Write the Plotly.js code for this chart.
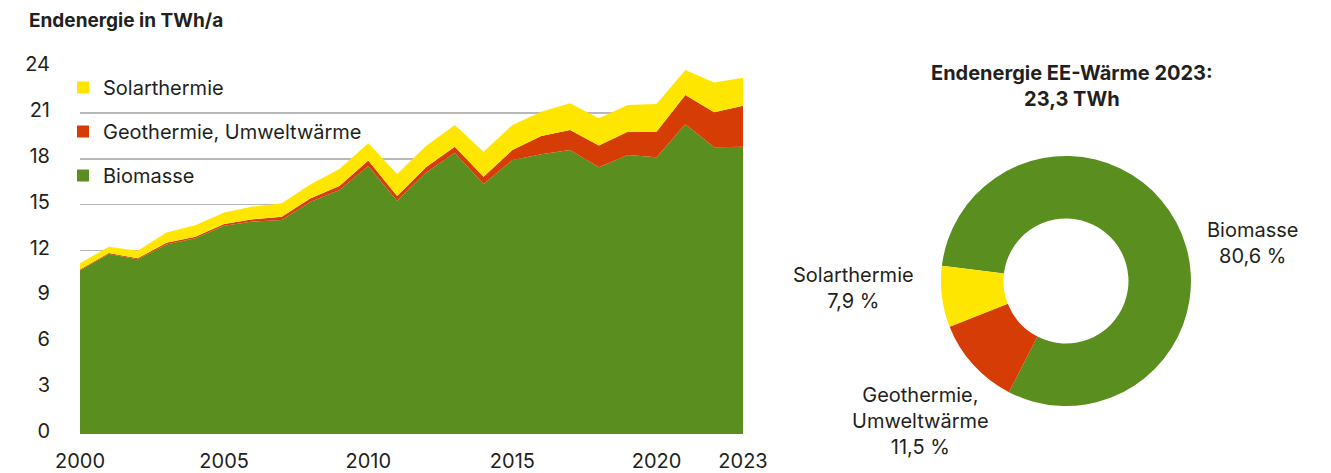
<!DOCTYPE html>
<html>
<head>
<meta charset="utf-8">
<script src="https://cdn.plot.ly/plotly-3.0.1.min.js"></script>
<style>
  body { margin: 0; background: #fff; }
  #chart { width: 1331px; height: 473px; }
</style>
</head>
<body>
<div id="chart"></div>
<script>
// Endenergie aus erneuerbaren Quellen fuer Waerme, TWh/a
var years = [2000, 2001, 2002, 2003, 2004, 2005, 2006, 2007, 2008, 2009, 2010, 2011,
             2012, 2013, 2014, 2015, 2016, 2017, 2018, 2019, 2020, 2021, 2022, 2023];
var biomasse = [10.7, 11.77, 11.42, 12.4, 12.8, 13.62, 13.89, 14.0, 15.19, 15.96, 17.53, 15.26,
                17.09, 18.4, 16.35, 17.92, 18.29, 18.57, 17.44, 18.25, 18.1, 20.25, 18.75, 18.78];
var geothermie = [0.05, 0.06, 0.07, 0.1, 0.1, 0.11, 0.15, 0.21, 0.22, 0.26, 0.35, 0.31,
                  0.35, 0.39, 0.48, 0.65, 1.2, 1.31, 1.42, 1.52, 1.67, 1.92, 2.29, 2.68];
var solar = [0.41, 0.42, 0.5, 0.68, 0.75, 0.75, 0.83, 0.88, 0.92, 1.11, 1.13, 1.43,
             1.4, 1.42, 1.63, 1.64, 1.59, 1.75, 1.79, 1.75, 1.81, 1.64, 1.94, 1.84];
var xTicks = [2000, 2005, 2010, 2015, 2020, 2023];
var yTicks = [0, 3, 6, 9, 12, 15, 18, 21, 24];

var seriesNames = ["Biomasse", "Geothermie, Umweltwärme", "Solarthermie"];
var seriesColors = ["#5a8f20", "#d63c06", "#ffe600"];
var seriesValues = [biomasse, geothermie, solar];

var textColor = "#231f20";
var fontFamily = "Inter, Roboto, sans-serif";

function de(v, d) {
  return v.toFixed(d).replace(".", ",");
}

var data = [];

// stacked areas
seriesValues.forEach(function(vals, i) {
  data.push({
    x: years,
    y: vals,
    name: seriesNames[i],
    type: "scatter",
    mode: "lines",
    stackgroup: "one",
    line: {width: 0, color: seriesColors[i]},
    fillcolor: seriesColors[i],
    showlegend: false,
    hoverinfo: "x+y+name"
  });
});

// legend entries with square markers (Solarthermie on top)
for (var i = seriesNames.length - 1; i >= 0; i--) {
  data.push({
    x: [null],
    y: [null],
    name: seriesNames[i],
    type: "scatter",
    mode: "markers",
    marker: {symbol: "square", size: 12, color: seriesColors[i]},
    legendgroup: "g" + i,
    showlegend: true
  });
}

// donut for the last year
var last = years.length - 1;
var pieValues = seriesValues.map(function(v) { return v[last]; });
var pieTotal = pieValues.reduce(function(a, b) { return a + b; }, 0);

data.push({
  type: "pie",
  labels: seriesNames,
  values: pieValues,
  hole: 0.5,
  sort: false,
  direction: "clockwise",
  rotation: -83,
  marker: {colors: seriesColors, line: {width: 0}},
  textinfo: "none",
  showlegend: false,
  domain: {x: [0.6994, 0.9025], y: [0.0763, 0.7575]}
});

// donut labels
var pieLabelText = [
  "Biomasse",
  "Geothermie,<br>Umweltwärme",
  "Solarthermie"
];
var pieLabelPos = [[1252, 243], [920, 421], [853, 288]];

var W = 1331, H = 473;
var mL = 80, mR = 20, mT = 67, mB = 39;
var pw = W - mL - mR, ph = H - mT - mB;
function px(x) { return (x - mL) / pw; }
function py(y) { return (H - mB - y) / ph; }

var annotations = [
  {
    text: "<b>Endenergie in TWh/a</b>",
    xref: "paper", yref: "paper",
    x: px(27), y: py(20), xanchor: "left", yanchor: "middle",
    showarrow: false,
    font: {size: 19, color: textColor, family: fontFamily}
  },
  {
    text: "<b>Endenergie EE-Wärme " + years[last] + ":<br>" + de(pieTotal, 1) + " TWh</b>",
    xref: "paper", yref: "paper",
    x: px(1072), y: py(86), xanchor: "center", yanchor: "middle",
    showarrow: false,
    font: {size: 20, color: textColor, family: fontFamily}
  }
];

pieValues.forEach(function(v, i) {
  annotations.push({
    text: pieLabelText[i] + "<br>" + de(v / pieTotal * 100, 1) + " %",
    xref: "paper", yref: "paper",
    x: px(pieLabelPos[i][0]), y: py(pieLabelPos[i][1]),
    xanchor: "center", yanchor: "middle",
    showarrow: false,
    align: "center",
    font: {size: 20, color: textColor, family: fontFamily}
  });
});

var layout = {
  width: W,
  height: H,
  margin: {l: mL, r: mR, t: mT, b: mB},
  paper_bgcolor: "#fff",
  plot_bgcolor: "#fff",
  font: {family: fontFamily, color: textColor, size: 20},
  showlegend: true,
  legend: {
    x: px(63), y: py(68), xanchor: "left", yanchor: "top",
    bgcolor: "rgba(0,0,0,0)",
    tracegroupgap: 15,
    font: {size: 20, color: textColor}
  },
  xaxis: {
    domain: [0, (743 - mL) / pw],
    range: [2000, 2023],
    tickvals: xTicks,
    ticktext: xTicks.map(String),
    showgrid: false,
    zeroline: false,
    showline: false,
    ticks: "",
    ticklabelstandoff: 13,
    tickfont: {size: 20, color: textColor}
  },
  yaxis: {
    range: [0, 24],
    tickvals: yTicks,
    showgrid: true,
    gridcolor: "#b8b8b8",
    gridwidth: 1.5,
    zeroline: false,
    showline: false,
    ticks: "",
    ticklabelstandoff: 29,
    ticklabelshift: -3,
    tickfont: {size: 20, color: textColor}
  },
  annotations: annotations
};

Plotly.newPlot("chart", data, layout, {displayModeBar: false, staticPlot: true});
</script>
</body>
</html>
